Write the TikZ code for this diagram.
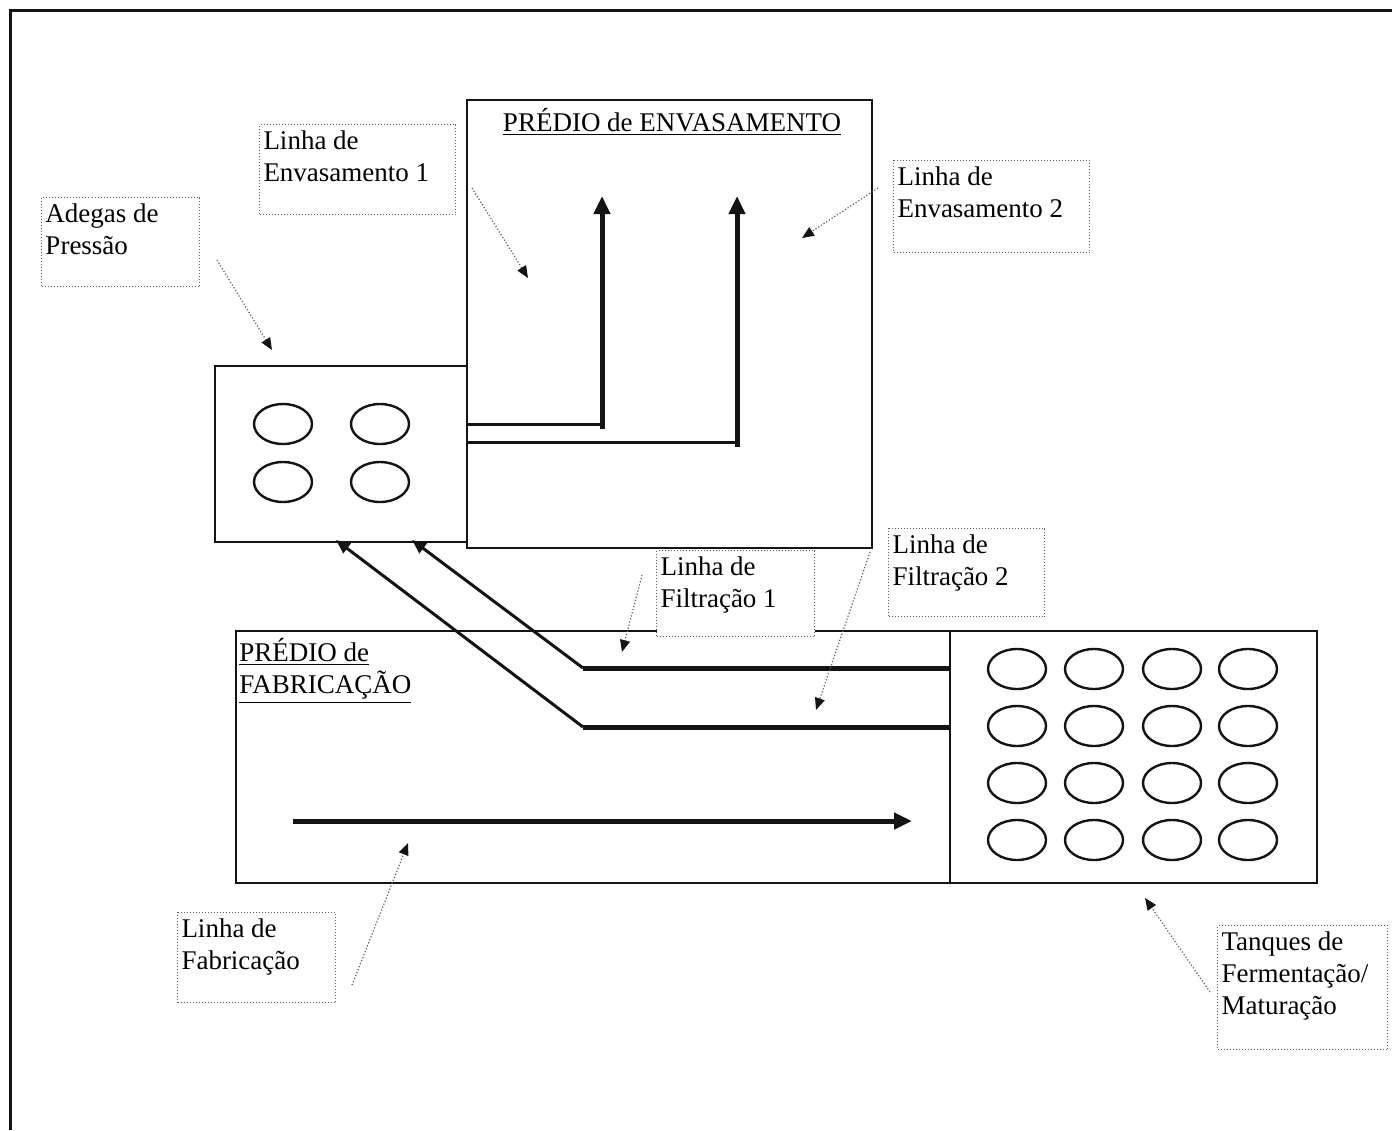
\documentclass[tikz,border=0pt]{standalone}
\usepackage{fontspec}
\setmainfont{Liberation Serif}
\usetikzlibrary{arrows.meta,calc}
\definecolor{contorno}{RGB}{20,20,20}
\definecolor{pontilhado}{RGB}{95,95,95}
\tikzset{
  predio/.style={draw=contorno, line width=1.3pt},
  tanque/.style={draw=contorno, line width=1.2pt},
  fluxo/.style={contorno, line width=2.5pt, -{Triangle[length=9pt,width=8pt]}},
  ramal/.style={contorno, line width=1.5pt},
  trecho/.style={contorno, line width=2.5pt},
  retorno/.style={contorno, line width=1.5pt, -{Triangle[length=7pt,width=6pt]}},
  rotulo/.style={draw=pontilhado, densely dotted, line width=0.5pt, fill=white,
    anchor=north west, inner xsep=2pt, inner ysep=3pt},
  chamada/.style={pontilhado, densely dotted, line width=0.6pt,
    -{Triangle[length=6pt,width=5pt,color=contorno]}}
}
\newcommand{\textocaixa}[3]{\parbox[t][#2][t]{#1}{\raggedright #3}}

\begin{document}
\begin{tikzpicture}[x=0.5pt,y=-0.5pt,font=\fontsize{13.5pt}{16pt}\selectfont]
  \useasboundingbox (0,0) rectangle (1392,1130);
  % Page frame
  \draw[contorno,line width=1.5pt] (10,1130) -- (10,10) -- (1392,10);

  % Buildings
  \draw[predio] (215,366) rectangle (467,542);
  \draw[predio] (467,100) rectangle (872,548);
  \draw[predio] (236,631) rectangle (950,883);
  \draw[predio] (950,631) rectangle (1317,883);
  \node[anchor=base] (titenv) at (672,131) {\underline{PRÉDIO de ENVASAMENTO}};
  \node[anchor=north west,align=left,inner sep=0pt] (titfab) at (239,638)
    {\underline{PRÉDIO de}\\\underline{FABRICAÇÃO}};

  % Pressure cellars and fermentation tanks
  \foreach \x in {283,380}
    \foreach \y in {424,482}
      \draw[tanque] (\x,\y) ellipse (29 and 20);
  \foreach \x in {1017,1094,1172,1248}
    \foreach \y in {669,726,783,840}
      \draw[tanque] (\x,\y) ellipse (29 and 20);

  % Bottling lines
  \coordinate (e1a) at (467,424);  \coordinate (e1b) at (602,424);
  \coordinate (e1c) at (602,429);  \coordinate (e1d) at (602,196);
  \coordinate (e2a) at (467,442);  \coordinate (e2b) at (737,442);
  \coordinate (e2c) at (737,447);  \coordinate (e2d) at (737,196);
  \draw[ramal] (e1a) -- (e1b);
  \draw[fluxo] (e1c) -- (e1d);
  \draw[ramal] (e2a) -- (e2b);
  \draw[fluxo] (e2c) -- (e2d);

  % Filtration lines back to the cellars
  \coordinate (f1a) at (950,668);  \coordinate (f1b) at (583,668);
  \coordinate (f1c) at (412,540);
  \coordinate (f2a) at (950,727);  \coordinate (f2b) at (583,727);
  \coordinate (f2c) at (336,540);
  \draw[trecho] (f1a) -- (f1b);
  \draw[retorno] (f1b) -- (f1c);
  \draw[trecho] (f2a) -- (f2b);
  \draw[retorno] (f2b) -- (f2c);

  % Production line
  \coordinate (fa) at (293,821);  \coordinate (fb) at (912,821);
  \draw[fluxo] (fa) -- (fb);

  % Labels
  \node[rotulo] (adegaslbl) at (41,197)
    {\textocaixa{75pt}{38.5pt}{Adegas de\\Pressão}};
  \node[rotulo] (env1lbl) at (259,124)
    {\textocaixa{94pt}{39pt}{Linha de\\Envasamento 1}};
  \node[rotulo] (env2lbl) at (893,160)
    {\textocaixa{94pt}{40pt}{Linha de\\Envasamento 2}};
  \node[rotulo] (filt1lbl) at (656,550)
    {\textocaixa{75pt}{37pt}{Linha de\\Filtração 1}};
  \node[rotulo] (filt2lbl) at (888,528)
    {\textocaixa{74pt}{38pt}{Linha de\\Filtração 2}};
  \node[rotulo] (fabrlbl) at (177,912)
    {\textocaixa{75pt}{39pt}{Linha de\\Fabricação}};
  \node[rotulo] (tanqlbl) at (1217,925)
    {\textocaixa{81pt}{56pt}{Tanques de\\Fermentação/\\Maturação}};

  % Callouts
  \coordinate (c1a) at (217,260);   \coordinate (c1b) at (272,350);
  \coordinate (c2a) at (472,188);   \coordinate (c2b) at (528,278);
  \coordinate (c3a) at (878,188);   \coordinate (c3b) at (802,238);
  \coordinate (c4a) at (642,575);   \coordinate (c4b) at (622,652);
  \coordinate (c5a) at (870,552);   \coordinate (c5b) at (816,710);
  \coordinate (c6a) at (352,985);   \coordinate (c6b) at (408,843);
  \coordinate (c7a) at (1210,992);  \coordinate (c7b) at (1145,898);
  \foreach \a/\b in {c1a/c1b,c2a/c2b,c3a/c3b,c4a/c4b,c5a/c5b,c6a/c6b,c7a/c7b}
    \draw[chamada] (\a) -- (\b);
\end{tikzpicture}
\end{document}
